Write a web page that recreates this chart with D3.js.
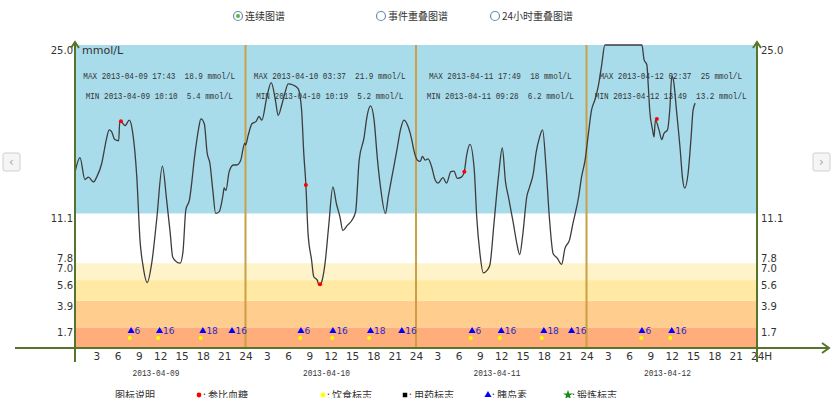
<!doctype html>
<html>
<head>
    <meta charset="utf-8" />
    <title></title>
    <style>
        body { margin: 0; background: #fff; }
        svg text { fill: #333; }
        .cjk { font-family: "Noto Sans CJK SC", sans-serif; font-size: 10px; }
        .num { font-family: "DejaVu Sans", sans-serif; font-size: 10px; }
        .mono { font-family: "Liberation Mono", monospace; font-size: 9px; white-space: pre; }
    </style>
</head>
<body>
    <div id="chart"></div>

    <script src="https://cdn.jsdelivr.net/npm/d3@7"></script>
    <script>
        // glucose curve: hour since 2013-04-09 00:00, mmol/L
        var hours = [0, 0.7, 1.4, 1.9, 2.6, 3.05, 3.75, 4.45, 4.8, 5.15, 5.6, 6.15, 6.3, 6.6, 7.05, 7.65, 8.1, 8.7, 9.15, 9.6,
            10.17, 10.8, 11.5, 12.3, 12.9, 13.4, 13.75, 14.3, 14.8, 15.2, 15.6, 16.1, 16.9, 17.4, 17.72, 18.2, 18.6, 19.0, 19.4, 19.8,
            20.3, 20.8, 21.0, 21.25, 21.7, 22.3, 22.75, 23.3, 23.9, 24.0, 24.4, 24.9, 25.5, 25.9, 26.3, 27.0, 27.62, 28.2, 28.6, 29.1,
            29.6, 30.0, 30.7, 31.4, 31.9, 32.2, 32.5, 32.8, 33.3, 33.6, 34.1, 34.32, 34.6, 35.2, 35.7, 36.3, 36.8, 37.3, 37.7, 38.3,
            39.0, 39.5, 40.0, 40.7, 41.1, 41.6, 42.1, 42.56, 43.0, 43.7, 44.1, 44.7, 45.3, 45.85, 46.3, 46.9, 47.4, 47.7, 48.2, 48.6,
            48.9, 49.3, 49.7, 50.2, 50.7, 51.1, 51.8, 52.3, 52.9, 53.35, 53.8, 54.4, 54.8, 55.1, 55.6, 56.2, 56.55, 57.0, 57.47, 58.0,
            58.4, 58.98, 59.6, 60.15, 60.6, 61.0, 61.7, 62.2, 62.6, 63.0, 63.6, 64.0, 64.5, 64.9, 65.4, 65.82, 66.3, 66.77, 67.3, 67.9,
            68.5, 68.96, 69.6, 70.1, 70.9, 71.3, 71.8, 72.25, 72.7, 73.2, 73.66, 74.1, 74.6, 79.8, 80.1, 80.5, 80.7, 80.9, 81.3, 81.5,
            81.7, 82.2, 82.6, 82.9, 83.4, 83.75, 84.0, 84.2, 84.7, 85.2, 85.5, 85.82, 86.3, 86.7, 87.0, 87.3];
        var glucose = [14.5, 15.7, 13.9, 14.1, 13.7, 14.1, 15.2, 17.3, 18.0, 17.85, 17.2, 17.1, 18.7, 18.6, 18.35, 18.8, 17.85, 14.1, 8.9, 6.7,
            5.4, 7.0, 10.6, 15.0, 12.2, 9.5, 7.5, 7.1, 7.0, 7.95, 11.4, 12.2, 16.1, 18.1, 18.9, 18.5, 16.1, 15.2, 13.0, 11.1,
            11.25, 12.5, 13.2, 13.0, 14.55, 15.1, 15.1, 15.45, 16.9, 16.75, 17.6, 18.5, 18.7, 19.1, 18.8, 20.7, 21.9, 20.5, 19.2, 20.05,
            21.15, 21.8, 21.7, 21.4, 19.6, 16.1, 13.45, 9.5, 7.26, 5.9, 5.6, 5.2, 5.3, 7.0, 10.0, 13.3, 11.9, 10.8, 9.7, 10.1,
            10.56, 11.25, 15.5, 17.4, 19.1, 19.97, 18.8, 15.65, 13.3, 11.1, 12.5, 14.4, 16.3, 18.1, 18.8, 18.25, 17.2, 16.3, 15.5, 15.4,
            15.8, 15.5, 15.6, 14.96, 13.86, 13.6, 14.05, 13.6, 14.55, 14.6, 14.0, 14.1, 14.55, 15.8, 16.8, 14.7, 10.8, 7.8, 6.2, 6.4,
            6.85, 10.3, 14.1, 16.5, 13.7, 12.5, 10.3, 8.6, 7.7, 9.2, 12.5, 13.3, 14.36, 16.1, 17.4, 18.0, 14.96, 10.8, 7.8, 7.4,
            6.9, 8.2, 8.9, 10.3, 12.5, 14.1, 15.5, 17.6, 19.6, 20.5, 21.6, 23.2, 25.0, 25.0, 23.8, 23.35, 21.6, 19.6, 18.0, 17.4,
            18.8, 18.0, 17.2, 17.7, 18.0, 19.9, 22.4, 22.2, 19.4, 16.3, 14.1, 13.2, 14.4, 17.2, 19.6, 20.2];

        // reference blood glucose (red dots)
        var refHours = [6.47, 32.5, 34.5, 54.8, 81.9];
        var refValues = [18.7, 13.45, 5.25, 14.55, 18.9];

        // insulin (blue triangles) and meals (yellow dots)
        var insulinHours = [7.9, 11.9, 18, 22.1, 31.8, 36.3, 41.6, 46, 55.9, 60, 66, 69.9, 79.8, 84];
        var insulinDoses = [6, 16, 18, 16, 6, 16, 18, 16, 6, 16, 18, 16, 6, 16];
        var mealHours = [7.7, 11.7, 17.7, 31.7, 36.2, 41.4, 55.7, 59.8, 65.7, 79.7, 83.8];

        var dates = ["2013-04-09", "2013-04-10", "2013-04-11", "2013-04-12"];
        var maxTimes = ["17:43", "03:37", "17:49", "02:37"];
        var maxValues = ["18.9", "21.9", "18", "25"];
        var minTimes = ["10:10", "10:19", "09:28", "13:49"];
        var minValues = ["5.4", "5.2", "6.2", "13.2"];

        var yTicks = [1.7, 3.9, 5.6, 7.0, 7.8, 11.1, 25.0];
        var bandLimits = [0, 1.7, 3.9, 5.6, 7.0, 11.1, 25];
        var bandColors = ["#ffad7a", "#ffcd8e", "#ffe9a3", "#fff4c9", "#ffffff", "#a9dcea"];

        var radioLabels = ["连续图谱", "事件重叠图谱", "24小时重叠图谱"];
        var legendLabels = [": 参比血糖", ": 饮食标志", ": 用药标志", ": 胰岛素", ": 锻炼标志"];

        var w = 840, h = 398;
        var plotL = 75, plotR = 757, plotT = 45, plotB = 348;
        var axisColor = "#56752b", dayColor = "#c9a045";

        var x = d3.scaleLinear().domain([0, 96]).range([plotL, plotR]);
        var y = d3.scaleLinear().domain([0, 25]).range([plotB, plotT]);

        var svg = d3.select("#chart").append("svg").attr("width", w).attr("height", h);

        // radio buttons on top
        var radioX = [238, 381, 495];
        radioLabels.forEach(function(t, i) {
            var g = svg.append("g").attr("transform", "translate(" + radioX[i] + ",16)");
            g.append("circle").attr("r", 4.5).attr("fill", "#fff").attr("stroke", "#6b8cae").attr("stroke-width", 1.2);
            if (i === 0) g.append("circle").attr("r", 2).attr("fill", "#4cbb4c");
            g.append("text").attr("class", "cjk").attr("x", 7).attr("y", 3.5).text(t);
        });

        // glucose bands
        svg.selectAll("rect.band").data(bandColors).enter().append("rect")
            .attr("class", "band")
            .attr("x", plotL)
            .attr("width", plotR - plotL)
            .attr("y", function(d, i) { return y(bandLimits[i + 1]); })
            .attr("height", function(d, i) { return y(bandLimits[i]) - y(bandLimits[i + 1]); })
            .attr("fill", function(d) { return d; });

        // day dividers
        svg.selectAll("line.day").data([24, 48, 72]).enter().append("line")
            .attr("x1", x).attr("x2", x).attr("y1", plotT).attr("y2", plotB)
            .attr("stroke", dayColor).attr("stroke-width", 2);

        // MAX / MIN notes
        dates.forEach(function(d, i) {
            var cx = x(i * 24 + 12) - 1;
            var s1 = "MAX " + d + " " + maxTimes[i] + "  " + maxValues[i] + " mmol/L";
            var s2 = "MIN " + d + " " + minTimes[i] + "  " + minValues[i] + " mmol/L";
            svg.append("text").attr("class", "mono").attr("x", cx).attr("y", 79).attr("text-anchor", "middle")
                .attr("textLength", s1.length * 4.6).attr("lengthAdjust", "spacingAndGlyphs").text(s1);
            svg.append("text").attr("class", "mono").attr("x", cx).attr("y", 99).attr("text-anchor", "middle")
                .attr("textLength", s2.length * 4.6).attr("lengthAdjust", "spacingAndGlyphs").text(s2);
        });

        // glucose curve
        svg.append("clipPath").attr("id", "plot").append("rect")
            .attr("x", plotL).attr("y", plotT - 1).attr("width", plotR - plotL).attr("height", plotB - plotT + 1);

        var line = d3.line()
            .x(function(d, i) { return x(hours[i]); })
            .y(function(d) { return y(d); })
            .curve(d3.curveMonotoneX);

        svg.append("path").datum(glucose)
            .attr("d", line)
            .attr("fill", "none")
            .attr("stroke", "#3d3d3d")
            .attr("stroke-width", 1.3)
            .attr("clip-path", "url(#plot)");

        svg.selectAll("circle.ref").data(refValues).enter().append("circle")
            .attr("class", "ref")
            .attr("cx", function(d, i) { return x(refHours[i]); })
            .attr("cy", y)
            .attr("r", 2)
            .attr("fill", "#f00");

        // events
        var tri = d3.symbol().type(d3.symbolTriangle).size(22);
        svg.selectAll("path.ins").data(insulinDoses).enter().append("path")
            .attr("class", "ins")
            .attr("d", tri)
            .attr("transform", function(d, i) { return "translate(" + x(insulinHours[i]) + ",331)"; })
            .attr("fill", "#0000ff");
        svg.selectAll("text.ins").data(insulinDoses).enter().append("text")
            .attr("class", "num")
            .attr("x", function(d, i) { return x(insulinHours[i]) + 3.5; })
            .attr("y", 334)
            .style("font-size", "9px")
            .style("fill", "#2a2ad0")
            .text(function(d) { return d; });
        svg.selectAll("circle.meal").data(mealHours).enter().append("circle")
            .attr("cx", x).attr("cy", 338).attr("r", 2).attr("fill", "#ffff00");

        // axes
        var xAxis = d3.axisBottom(x)
            .tickValues(d3.range(3, 97, 3))
            .tickSize(0)
            .tickPadding(5)
            .tickFormat(function(d) { return d === 96 ? "24H" : (d % 24 === 0 ? 24 : d % 24); });
        var gx = svg.append("g").attr("transform", "translate(0," + plotB + ")").call(xAxis);
        gx.select(".domain").remove();
        gx.selectAll("text").attr("class", "num").style("font-size", "10.5px").attr("fill", "#333");
        gx.selectAll(".tick").filter(function(d) { return d === 96; }).select("text")
            .attr("text-anchor", "start").attr("dx", -6.5);

        var yLeft = d3.axisLeft(y).tickValues(yTicks).tickSize(0).tickPadding(2).tickFormat(d3.format(".1f"));
        var yRight = d3.axisRight(y).tickValues(yTicks).tickSize(0).tickPadding(4).tickFormat(d3.format(".1f"));
        var gyl = svg.append("g").attr("transform", "translate(" + plotL + ",0)").call(yLeft);
        var gyr = svg.append("g").attr("transform", "translate(" + plotR + ",0)").call(yRight);
        [gyl, gyr].forEach(function(g) {
            g.select(".domain").remove();
            g.selectAll("text").attr("class", "num").attr("dy", "0.85em").attr("fill", "#333");
        });

        svg.append("text").attr("class", "num").attr("x", 82).attr("y", 54).style("font-size", "11px").text("mmol/L");

        dates.forEach(function(d, i) {
            svg.append("text").attr("class", "mono").attr("x", x(i * 24 + 11.4)).attr("y", 376)
                .attr("text-anchor", "middle").attr("textLength", 47).attr("lengthAdjust", "spacingAndGlyphs").text(d);
        });

        // axis lines with open arrows
        var ax = svg.append("g").attr("stroke", axisColor).attr("stroke-width", 2).attr("fill", "none");
        ax.append("line").attr("x1", 15).attr("x2", 829).attr("y1", plotB).attr("y2", plotB);
        ax.append("path").attr("d", "M822,343L829,348L822,353");
        [plotL, plotR].forEach(function(px) {
            ax.append("line").attr("x1", px).attr("x2", px).attr("y1", 42).attr("y2", 362);
            ax.append("path").attr("d", "M" + (px - 4) + ",48L" + px + ",42L" + (px + 4) + ",48");
        });

        // side buttons
        [[3, "‹"], [813, "›"]].forEach(function(b) {
            svg.append("rect").attr("x", b[0]).attr("y", 153).attr("width", 17).attr("height", 18).attr("rx", 2)
                .attr("fill", "#f5f5f5").attr("stroke", "#cfcfcf");
            svg.append("text").attr("class", "num").attr("x", b[0] + 8.5).attr("y", 166).attr("text-anchor", "middle")
                .style("font-size", "12px").style("fill", "#aaa").text(b[1]);
        });

        // bottom legend
        svg.append("text").attr("class", "cjk").attr("x", 115).attr("y", 399).text("图标说明");
        var legX = [199, 323, 405, 488, 568];
        var legSym = [d3.symbolCircle, d3.symbolCircle, d3.symbolSquare, d3.symbolTriangle, d3.symbolStar];
        var legFill = ["#f00", "#ffff00", "#000", "#0000ff", "#1a8a1a"];
        var legSize = [18, 18, 20, 22, 30];
        legendLabels.forEach(function(t, i) {
            svg.append("path").attr("d", d3.symbol().type(legSym[i]).size(legSize[i]))
                .attr("transform", "translate(" + legX[i] + ",395)").attr("fill", legFill[i]);
            svg.append("text").attr("class", "cjk").attr("x", legX[i] + 4).attr("y", 399).text(t);
        });
    </script>
</body>
</html>
